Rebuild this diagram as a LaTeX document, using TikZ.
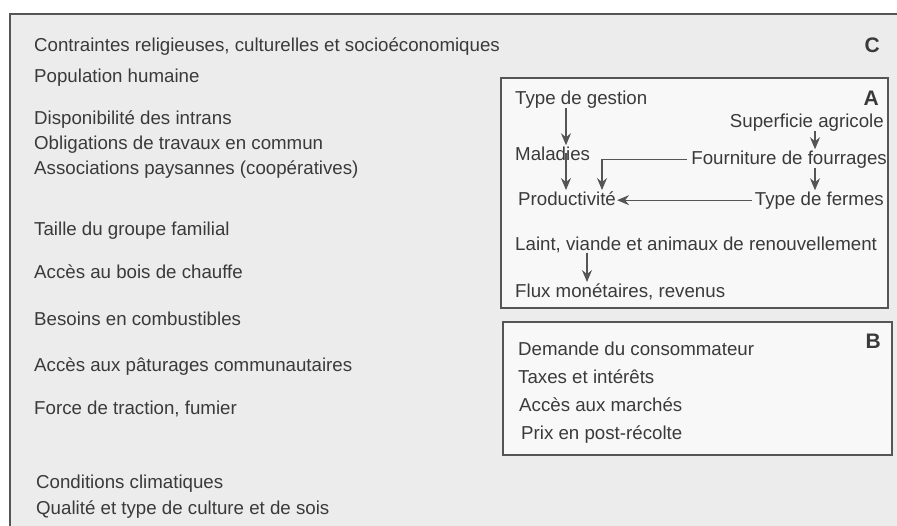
\documentclass[tikz,border=0pt]{standalone}
\usepackage{fontspec}
\setmainfont{Liberation Sans}
\usetikzlibrary{arrows.meta}

\definecolor{bggrey}{HTML}{ECECEC}
\definecolor{boxfill}{HTML}{F8F8F8}
\definecolor{ink}{HTML}{3A3A3A}
\definecolor{rule}{HTML}{555555}

\tikzset{
    txt/.style={anchor=base west, inner sep=0pt, text=ink, font=\fontsize{18.7}{22}\selectfont},
    rtxt/.style={txt, anchor=base east},
    tag/.style={rtxt, font=\fontsize{21}{24}\selectfont\bfseries},
    frame/.style={draw=rule, line width=1.3pt},
    arr/.style={draw=rule, line width=1.1pt, shorten >=1pt, -{Stealth[length=12pt,width=10pt,inset=4pt]}}
}

\begin{document}
\begin{tikzpicture}[x=1pt,y=-1pt]
        \useasboundingbox (0,0) rectangle (897,525);
        \clip (0,0) rectangle (897,525);

        % frames
        \draw[frame, fill=bggrey] (10,14) rectangle (905,535);
        \draw[frame, fill=boxfill] (501,78) rectangle (888,308);
        \draw[frame, fill=boxfill] (503,322) rectangle (892,455);

        % place nodes C
        \node[txt] at (34, 51)  (contraintes) {Contraintes religieuses, culturelles et socioéconomiques};
        \node[txt] at (34, 82)  (population) {Population humaine};
        \node[txt] at (34, 124) (intrans) {Disponibilité des intrans};
        \node[txt] at (34, 149) (travaux) {Obligations de travaux en commun};
        \node[txt] at (34, 174) (assoc) {Associations paysannes (coopératives)};
        \node[txt] at (34, 235) (taille) {Taille du groupe familial};
        \node[txt] at (34, 278) (bois) {Accès au bois de chauffe};
        \node[txt] at (34, 325) (combust) {Besoins en combustibles};
        \node[txt] at (34, 371) (paturages) {Accès aux pâturages communautaires};
        \node[txt] at (34, 414) (traction) {Force de traction, fumier};
        \node[txt] at (36, 488) (climat) {Conditions climatiques};
        \node[txt] at (36, 514) (sols) {Qualité et type de culture et de sois};
        \node[tag] at (880, 52) (labelC) {C};

        % place nodes A
        \node[txt]  at (515, 104) (gestion) {Type de gestion};
        \node[tag]  at (879, 105) (labelA) {A};
        \node[rtxt] at (884, 127) (superficie) {Superficie agricole};
        \node[txt]  at (515, 160) (maladies) {Maladies};
        \node[rtxt] at (887, 164) (fourrages) {Fourniture de fourrages};
        \node[txt]  at (518, 205) (prod) {Productivité};
        \node[rtxt] at (884, 205) (fermes) {Type de fermes};
        \node[txt]  at (515, 250) (lait) {Laint, viande et animaux de renouvellement};
        \node[txt]  at (515, 297) (flux) {Flux monétaires, revenus};

        % place nodes B
        \node[txt] at (518, 355) (demande) {Demande du consommateur};
        \node[tag] at (881, 348) (labelB) {B};
        \node[txt] at (518, 383) (taxes) {Taxes et intérêts};
        \node[txt] at (519, 411) (marches) {Accès aux marchés};
        \node[txt] at (521, 439) (prix) {Prix en post-récolte};

        % draw edges
        \coordinate (colA) at (566,0);
        \coordinate (colB) at (602,0);
        \coordinate (colC) at (815,0);
        \coordinate (colD) at (587,0);
        \draw[arr] (gestion.south -| colA) -- (maladies.north -| colA);
        \draw[arr] (maladies.center -| colA) -- (prod.north -| colA);
        \draw[arr, shorten <=4pt] (fourrages.west) -| (prod.north -| colB);
        \draw[arr] (superficie.south -| colC) -- (fourrages.north -| colC);
        \draw[arr] (fourrages.south -| colC) -- (fermes.north -| colC);
        \draw[arr, shorten <=3pt] (fermes.west) -- (fermes.west -| prod.east);
        \draw[arr] (lait.south -| colD) -- (flux.north -| colD);
    \end{tikzpicture}
\end{document}
